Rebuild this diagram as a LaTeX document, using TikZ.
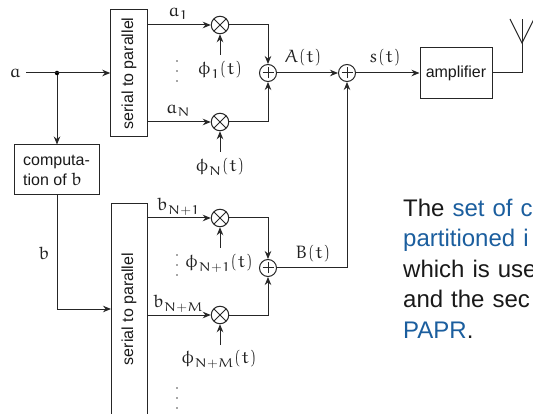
\documentclass[tikz,border=0pt]{standalone}
\usepackage{fontspec}
\setmainfont{Liberation Sans}
\usetikzlibrary{arrows.meta}
\font\eu=eurm10 at 18pt
\font\eus=eurm7 at 12.5pt
\font\euf=eufm10 at 18pt
\font\eufs=eufm7 at 12.5pt
\newcommand{\eusub}[1]{\kern0.3pt\lower3.6pt\hbox{#1}}
\newcommand{\ephi}{{\eu\char30}}
\newcommand{\oft}{{\euf\kern0.5pt(\kern0.5pt}{\eu t}{\euf\kern0.5pt)}}
\newcommand{\Nplus}[1]{{\eus N}{\eufs +}{\eus #1}}
\definecolor{linkblue}{HTML}{1B5E9E}
\definecolor{lbl}{HTML}{222222}
\tikzset{
  x=1pt,y=-1pt,
  wire/.style={line width=1pt,draw=black!85},
  arr/.style={wire,-{Stealth[length=8pt,width=6.5pt]}},
  blockbox/.style={draw=black!85,line width=1pt,inner sep=0pt,font=\fontsize{16}{18}\selectfont,text=black!90},
  mixer/.style={circle,draw=black!85,line width=1pt,minimum size=17.5pt,inner sep=0pt,
    path picture={\draw[line width=1pt,black!85] (path picture bounding box.north west)--(path picture bounding box.south east) (path picture bounding box.north east)--(path picture bounding box.south west);}},
  adder/.style={circle,draw=black!85,line width=1pt,minimum size=17pt,inner sep=0pt,
    path picture={\draw[line width=1pt,black!85] ([xshift=-5.5pt]path picture bounding box.center)--([xshift=5.5pt]path picture bounding box.center) ([yshift=-5.5pt]path picture bounding box.center)--([yshift=5.5pt]path picture bounding box.center);}},
  lab/.style={inner sep=0pt,text=lbl},
  tinydot/.style={circle,fill=black!70,inner sep=0pt,minimum size=1.6pt},
}
\begin{document}
\begin{tikzpicture}
\useasboundingbox (0,0) rectangle (533,414);
\clip (0,0) rectangle (533,414);
% blocks
\node[blockbox,minimum width=36.5pt,minimum height=127pt] (sp1) at (129,73.5) {\rotatebox{90}{serial to parallel}};
\draw[wire] (111,414) -- (111,204) -- (147,204) -- (147,414);
\coordinate (sp2in) at (111,309);
\coordinate (sp2o1) at (147,218);
\coordinate (sp2o2) at (147,315);
\node[inner sep=0pt,font=\fontsize{16}{18}\selectfont,text=black!90] (sp2t) at (129,309) {\rotatebox{90}{serial to parallel}};
\node[blockbox,minimum width=85pt,minimum height=50pt,font=\fontsize{16}{20}\selectfont,align=left] (comp) at (56.5,170) {computa-\\tion of {\eu b}};
\node[blockbox,minimum width=72pt,minimum height=51.5pt] (amp) at (456,73) {amplifier};
% mixers and adders
\node[mixer] (m1) at (220,25) {};
\node[mixer] (m2) at (220,122) {};
\node[mixer] (m3) at (220,218) {};
\node[mixer] (m4) at (220,315) {};
\node[adder] (s1) at (268,73) {};
\node[adder] (s2) at (268,268) {};
\node[adder] (s3) at (347,73) {};
% labels
\node[lab] (a) at (15,73) {\eu a};
\node[lab] (b) at (44,253) {\eu b};
\node[lab] (a1) at (178,14) {{\eu a}\eusub{\eus 1}};
\node[lab] (aN) at (178,111) {{\eu a}\eusub{\eus N}};
\node[lab] (bN1) at (178,207) {{\eu b}\eusub{\Nplus{1}}};
\node[lab] (bNM) at (178,304) {{\eu b}\eusub{\Nplus{M}}};
\node[lab] (p1) at (220,70) {\ephi\eusub{\eus 1}\oft};
\node[lab] (pN) at (220,167) {\ephi\eusub{\eus N}\oft};
\node[lab] (pN1) at (219,263) {\ephi\eusub{\Nplus{1}}\oft};
\node[lab] (pNM) at (219,359) {\ephi\eusub{\Nplus{M}}\oft};
\node[lab] (At) at (303,58) {{\eu A}\oft};
\node[lab] (st) at (385,58) {{\eu s}\oft};
\node[lab] (Bt) at (313,254) {{\eu B}\oft};
% dots
\foreach \y in {61,71,81,255,265,275,388,398,408} \node[tinydot] (d\y) at (177,\y) {};
% connectors
\coordinate (astart) at (26,73);
\coordinate (bjoin) at (57,309);
\node[circle,fill=black,inner sep=0pt,minimum size=4.5pt] (j) at (57,73) {};
\draw[arr] (astart) -- (astart-|sp1.west);
\draw[arr] (j) -- (j|-comp.north);
\draw[wire] (j|-comp.south) -- (bjoin);
\draw[arr] (bjoin) -- (sp2in);
\draw[arr] (sp1.east|-m1) -- (m1);
\draw[arr] (sp1.east|-m2) -- (m2);
\draw[arr] (sp2o1) -- (m3);
\draw[arr] (sp2o2) -- (m4);
\coordinate (p1s) at (220,55);
\coordinate (pNs) at (220,152);
\coordinate (pN1s) at (220,248);
\coordinate (pNMs) at (220,345);
\draw[arr] (p1s) -- (m1);
\draw[arr] (pNs) -- (m2);
\draw[arr] (pN1s) -- (m3);
\draw[arr] (pNMs) -- (m4);
\draw[arr] (m1) -| (s1);
\draw[arr] (m2) -| (s1);
\draw[arr] (m3) -| (s2);
\draw[arr] (m4) -| (s2);
\draw[arr] (s1) -- (s3);
\draw[arr] (s2) -| (s3);
\draw[arr] (s3) -- (amp);
% antenna
\coordinate (anttip) at (522,43);
\coordinate (anttop) at (522,19);
\coordinate (antl) at (510,19);
\coordinate (antr) at (534,19);
\draw[wire] (amp.east) -| (anttop);
\draw[wire] (antl) -- (anttip) -- (antr);
% paragraph
\node[anchor=north west,inner sep=0pt,text width=140pt,align=left,font=\fontsize{24}{30.5}\selectfont,text=black!90] (para) at (403,198.5)
{The \textcolor{linkblue}{set of c}\\
\textcolor{linkblue}{partitioned i}\\
which is use\\
and the sec\\
\textcolor{linkblue}{PAPR}.};
\end{tikzpicture}
\end{document}
